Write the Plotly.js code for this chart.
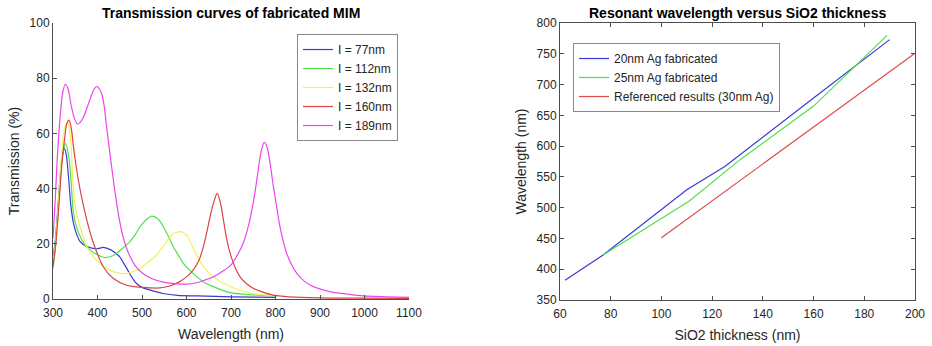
<!DOCTYPE html>
<html>
<head>
<meta charset="utf-8">
<script src="https://cdn.plot.ly/plotly-3.0.1.min.js"></script>
<style>html,body{margin:0;padding:0;background:#fff;}#chart{width:932px;height:346px;}</style>
</head>
<body>
<div id="chart"></div>
<script>
// ---- Left chart: transmission curves ----
const legendNamesLeft = ["I = 77nm", "I = 112nm", "I = 132nm", "I = 160nm", "I = 189nm"];

const wl77 = [300,305,310,315,320,326,330,335,340,346,353,361,376,398,413,430,443,450,458,466,475,487,500,517,547,580,623,700,800];
const tr77 = [15,21,31,42,51,54.5,52,44,34,27.5,23.5,20.8,19,18.2,18.7,17.8,16.3,15.3,13.2,11,8.5,5.7,4.2,3.3,2,1.3,1.1,0.8,0.6];

const wl112 = [300,305,310,315,320,328,335,340,346,353,361,372,383,398,417,430,443,458,473,485,495,510,522,537,548,560,570,582,593,610,623,640,660,698,740,800];
const tr112 = [11,18,28,40,50,56.4,52,44,31,26,22.6,19.5,17.8,16.2,15,15.4,16.6,18.6,20.8,23.4,26,28.8,30,28.8,26.2,22.5,19,15.8,12.9,10,8.1,6,4.5,2.3,1.6,1.1];

const wl132 = [300,305,310,315,320,326,333,338,346,353,361,376,391,405,421,435,450,465,480,495,510,530,548,563,575,587,600,612,623,638,660,698,743,800];
const tr132 = [14,20,30,42,54,62,64,61,39.5,31,26.2,19,15.3,13,11.1,10,9.3,9.2,9.9,11,12.9,15.5,19,22.6,24,24.4,23.2,19.5,15.9,11.7,8.1,4.5,2.1,1.2];

const wl160 = [300,305,310,315,320,326,331,336,341,346,353,361,376,391,413,435,465,502,540,560,585,600,615,628,638,646,653,661,669,676,683,690,698,709,720,735,750,770,795,830,900,1000,1100];
const tr160 = [12,18,27,38,49,58,63.5,64.8,62,55.2,47,39.5,28.6,20.2,11.7,7.5,5,4.2,4,4.6,6.3,8,10.5,14,19,24.5,29.8,35,38.3,35,28.6,22,16.6,11.5,8.1,5.5,3.9,2.6,1.4,0.8,0.4,0.3,0.2];

const wl189 = [300,305,310,316,322,328,334,341,348,355,362,370,378,387,393,399,405,410,415,420,425,430,435,440,450,460,470,485,500,520,550,580,600,620,640,660,680,698,713,728,740,750,757,765,770,775,781,788,795,803,810,818,825,836,848,866,885,922,960,997,1050,1100];
const tr189 = [22,36,52,66,75,77.8,76,70,65.5,63.4,64.2,66.5,70,74,76.2,77,76,74,70,63,56.5,50,44,38,28,21,16.5,12,9.5,7.5,6,5.5,5.4,5.8,6.8,8,10,12,15.5,20.5,27,35,42,51,55,56.8,55,49,41,33,26.2,20.5,16.6,12.5,9.3,6.3,4.5,2.7,1.8,1.1,0.8,0.6];

const leftColors = ["#3b3bd4", "#4fe04f", "#f2f25a", "#de4444", "#ee44ee"];

// ---- Right chart: resonant wavelength vs SiO2 thickness ----
const legendNamesRight = ["20nm Ag fabricated", "25nm Ag fabricated", "Referenced results (30nm Ag)"];
const thick20 = [62, 77, 110, 125, 160, 190];
const res20 = [382, 423, 529, 567, 678, 773];
const thick25 = [77, 111, 131, 160, 189];
const res25 = [423, 511, 578, 665, 780];
const thickRef = [100, 200];
const resRef = [451, 751];
const rightColors = ["#3b3bd4", "#4fe04f", "#e04a4a"];

const leftX = [wl77, wl112, wl132, wl160, wl189];
const leftY = [tr77, tr112, tr132, tr160, tr189];

const traces = [];
for (let i = 0; i < leftX.length; i++) {
  traces.push({
    x: leftX[i], y: leftY[i], type: "scatter", mode: "lines",
    name: legendNamesLeft[i], xaxis: "x", yaxis: "y", legend: "legend",
    line: {color: leftColors[i], width: 1.2, shape: "spline", smoothing: 0.8}
  });
}
const rightX = [thick20, thick25, thickRef];
const rightY = [res20, res25, resRef];
for (let i = 0; i < rightX.length; i++) {
  traces.push({
    x: rightX[i], y: rightY[i], type: "scatter", mode: "lines",
    name: legendNamesRight[i], xaxis: "x2", yaxis: "y2", legend: "legend2",
    line: {color: rightColors[i], width: 1.2}
  });
}

const FONT = "Liberation Sans, Arial, Helvetica, sans-serif";
const axisCommon = {
  showgrid: false, zeroline: false, showline: true, linecolor: "#4d4d4d", linewidth: 1,
  ticks: "inside", ticklen: 4, tickcolor: "#4d4d4d", tickwidth: 1,
  tickfont: {family: FONT, size: 12, color: "#262626"}, fixedrange: true
};

const legendCommon = {
  bgcolor: "#ffffff", bordercolor: "#888888", borderwidth: 1,
  font: {family: FONT, size: 12, color: "#262626"},
  yanchor: "top", itemwidth: 30, tracegroupgap: 0
};

const layout = {
  width: 932, height: 346,
  margin: {l: 0, r: 0, t: 0, b: 0},
  paper_bgcolor: "#ffffff", plot_bgcolor: "#ffffff",
  showlegend: true,
  xaxis: Object.assign({}, axisCommon, {
    domain: [0.05687, 0.43884], range: [300, 1100], tickmode: "linear", tick0: 300, dtick: 100,
    anchor: "y", ticklabelstandoff: 3,
    title: {text: "Wavelength (nm)", font: {family: FONT, size: 14, color: "#262626"}, standoff: 9}
  }),
  yaxis: Object.assign({}, axisCommon, {
    domain: [0.13584, 0.93353], range: [0, 100], tickmode: "linear", tick0: 0, dtick: 20,
    anchor: "x",
    title: {text: "Transmission (%)", font: {family: FONT, size: 14, color: "#262626"}, standoff: 6}
  }),
  xaxis2: Object.assign({}, axisCommon, {
    domain: [0.60086, 0.98176], range: [60, 200], tickmode: "linear", tick0: 60, dtick: 20,
    anchor: "y2", mirror: "ticks", ticklabelstandoff: 3,
    title: {text: "SiO2 thickness (nm)", font: {family: FONT, size: 14, color: "#262626"}, standoff: 9}
  }),
  yaxis2: Object.assign({}, axisCommon, {
    domain: [0.13295, 0.93353], range: [350, 800], tickmode: "linear", tick0: 350, dtick: 50,
    anchor: "x2", mirror: "ticks",
    title: {text: "Wavelength (nm)", font: {family: FONT, size: 14, color: "#262626"}, standoff: 6}
  }),
  legend: Object.assign({}, legendCommon, {x: 0.4270, xanchor: "right", y: 0.9017}),
  legend2: Object.assign({}, legendCommon, {x: 0.6148, xanchor: "left", y: 0.8757}),
  annotations: [
    {text: "Transmission curves of fabricated MIM", xref: "paper", yref: "paper",
     x: 0.2479, y: 0.963, xanchor: "center", yanchor: "middle", showarrow: false,
     font: {family: FONT, size: 14, color: "#000000", weight: "bold"}},
    {text: "Resonant wavelength versus SiO2 thickness", xref: "paper", yref: "paper",
     x: 0.7913, y: 0.963, xanchor: "center", yanchor: "middle", showarrow: false,
     font: {family: FONT, size: 14, color: "#000000", weight: "bold"}}
  ]
};

Plotly.newPlot("chart", traces, layout, {displayModeBar: false, staticPlot: true});
</script>
</body>
</html>
